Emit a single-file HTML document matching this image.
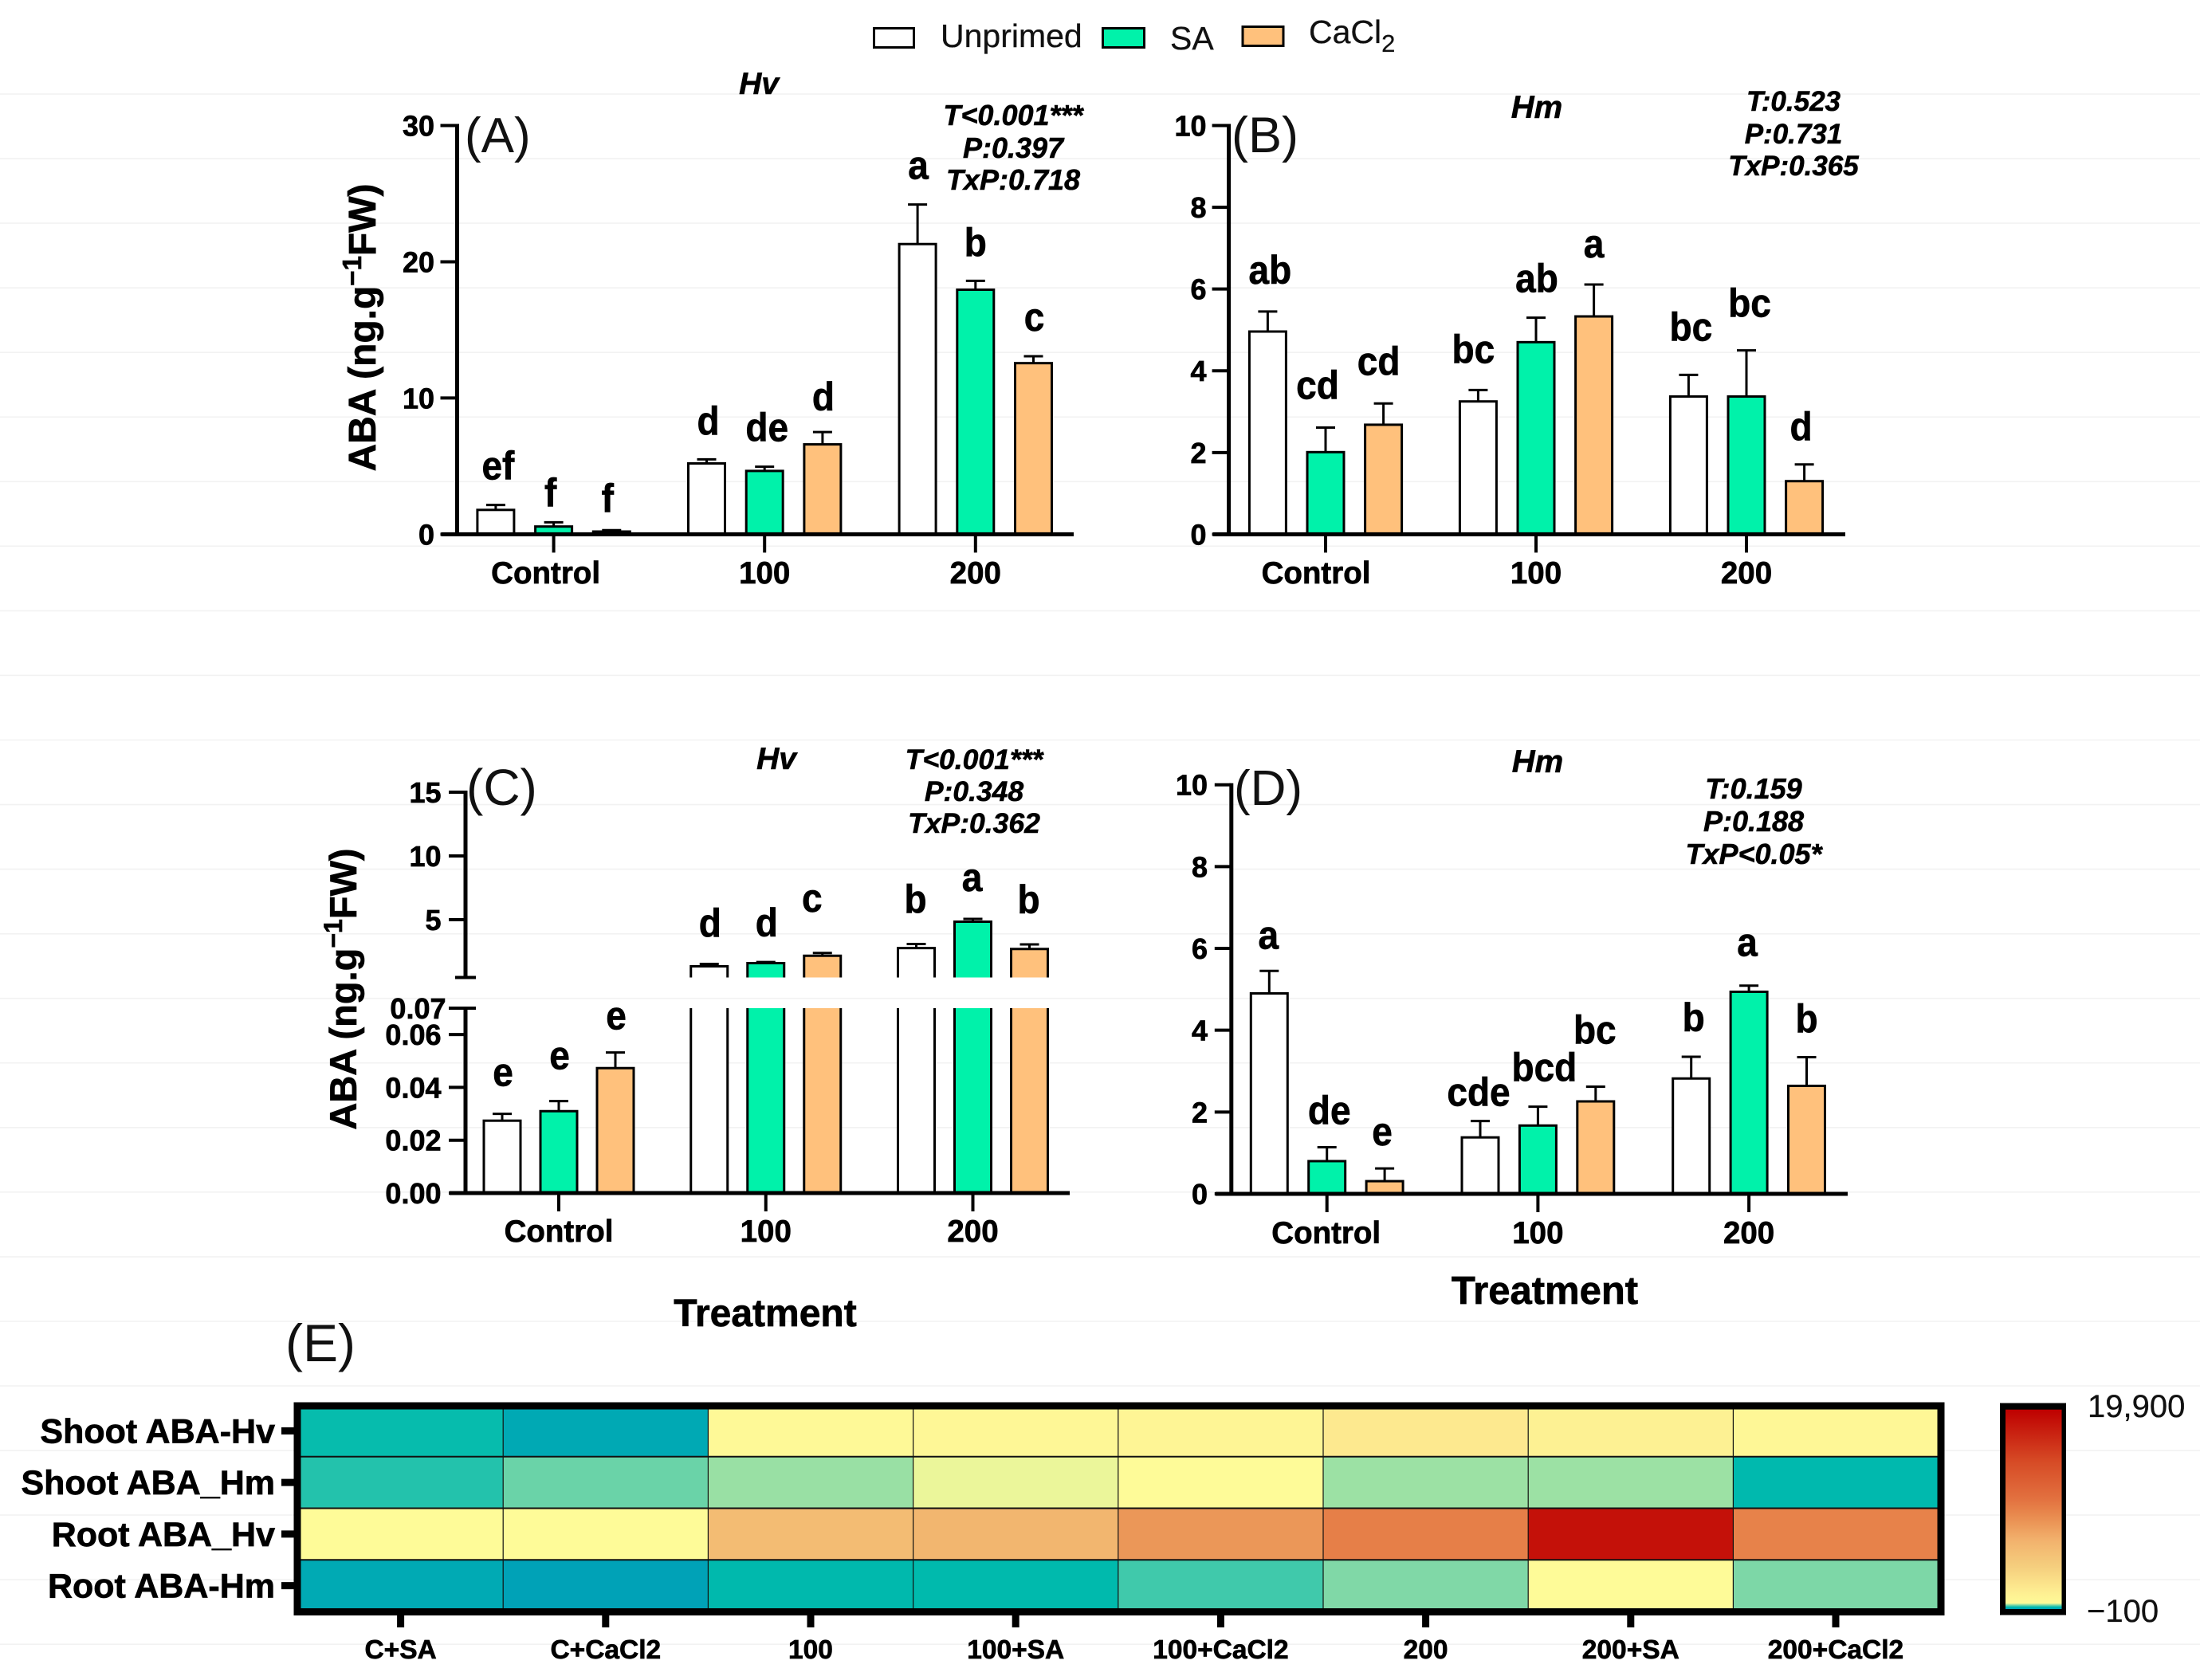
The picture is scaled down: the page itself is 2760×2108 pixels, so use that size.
<!DOCTYPE html>
<html lang="en">
<head>
<meta charset="utf-8">
<title>ABA content bar charts and heatmap</title>
<style>
html,body{margin:0;padding:0;background:#fff;}
svg{display:block;font-family:"Liberation Sans",sans-serif;}
.b{font-weight:700;stroke:#000;stroke-width:.7px;}
.bi{font-weight:700;font-style:italic;stroke:#000;stroke-width:.6px;}
.r{stroke:#111;stroke-width:.3px;}
</style>
</head>
<body>
<svg id="figure" xmlns="http://www.w3.org/2000/svg" width="2760" height="2108" viewBox="0 0 2760 2108">
  <rect width="2760" height="2108" fill="#fff"/>
  <g id="grid"></g>

  <g>
    <g>
      <rect x="1096.5" y="35.5" width="50" height="24" fill="#fff" stroke="#000" stroke-width="3"/>
      <text class="r" x="1180" y="59" font-size="41" fill="#111">Unprimed</text>
    </g>
    <g>
      <rect x="1383.5" y="35.5" width="52" height="24" fill="#00F2AA" stroke="#000" stroke-width="3"/>
      <text class="r" x="1468" y="62" font-size="41" fill="#111">SA</text>
    </g>
    <g>
      <rect x="1559" y="33.5" width="51" height="24" fill="#FFC17C" stroke="#000" stroke-width="3"/>
      <text class="r" x="1642" y="54" font-size="41" fill="#111">CaCl<tspan dy="11" font-size="31">2</tspan></text>
    </g>
  </g>

  <g id="panel-a">
    <text x="583" y="191" font-size="62" fill="#111">(A)</text>
    <text class="bi" x="952" y="118" font-size="39" text-anchor="middle" fill="#000">Hv</text>
    <text class="bi" x="1271" y="157" font-size="36" text-anchor="middle" fill="#000">T&lt;0.001***</text>
    <text class="bi" x="1271" y="198" font-size="36" text-anchor="middle" fill="#000">P:0.397</text>
    <text class="bi" x="1271" y="238" font-size="36" text-anchor="middle" fill="#000">TxP:0.718</text>
    <text class="b" x="471" y="411" transform="rotate(-90 471 411)" font-size="48" text-anchor="middle" fill="#000">ABA (ng.g<tspan dy="-18" font-size="33">−1</tspan><tspan dy="18">FW)</tspan></text>
  </g>

  <g id="panel-b">
    <text x="1545" y="191" font-size="63" fill="#111">(B)</text>
    <text class="bi" x="1928" y="148" font-size="40" text-anchor="middle" fill="#000">Hm</text>
    <text class="bi" x="2250" y="139" font-size="35" text-anchor="middle" fill="#000">T:0.523</text>
    <text class="bi" x="2250" y="180" font-size="35" text-anchor="middle" fill="#000">P:0.731</text>
    <text class="bi" x="2250" y="220" font-size="35" text-anchor="middle" fill="#000">TxP:0.365</text>
  </g>

  <g id="panel-c">
    <text x="585" y="1010" font-size="64" fill="#111">(C)</text>
    <text class="bi" x="974" y="965" font-size="39" text-anchor="middle" fill="#000">Hv</text>
    <text class="bi" x="1222" y="965" font-size="35.5" text-anchor="middle" fill="#000">T&lt;0.001***</text>
    <text class="bi" x="1222" y="1005" font-size="35.5" text-anchor="middle" fill="#000">P:0.348</text>
    <text class="bi" x="1222" y="1045" font-size="35.5" text-anchor="middle" fill="#000">TxP:0.362</text>
    <text class="b" x="447" y="1241" transform="rotate(-90 447 1241)" font-size="47" text-anchor="middle" fill="#000">ABA (ng.g<tspan dy="-18" font-size="32">−1</tspan><tspan dy="18">FW)</tspan></text>
    <text class="b" x="960" y="1664" font-size="48" text-anchor="middle" fill="#000">Treatment</text>
  </g>

  <g id="panel-d">
    <text x="1548" y="1010" font-size="62" fill="#111">(D)</text>
    <text class="bi" x="1929" y="969" font-size="40" text-anchor="middle" fill="#000">Hm</text>
    <text class="bi" x="2200" y="1002" font-size="36" text-anchor="middle" fill="#000">T:0.159</text>
    <text class="bi" x="2200" y="1043" font-size="36" text-anchor="middle" fill="#000">P:0.188</text>
    <text class="bi" x="2200" y="1084" font-size="36" text-anchor="middle" fill="#000">TxP&lt;0.05*</text>
    <text class="b" x="1938" y="1636" font-size="49" text-anchor="middle" fill="#000">Treatment</text>
  </g>

  <g id="panel-e">
    <text x="358" y="1708" font-size="66" fill="#111">(E)</text>
  </g>
</svg>

<script>
/* ---------- shared categories ---------- */
const categories = ['Control', '100', '200'];
const seriesNames = ['unprimed', 'sa', 'cacl2'];
const seriesFills = ['#ffffff', '#00F2AA', '#FFC17C'];

/* ---------- panel A values ---------- */
const aUnprimed = [1.79, 5.2, 21.3];
const aSA = [0.57, 4.65, 17.95];
const aCaCl2 = [0.2, 6.6, 12.56];
const aUnprimedErr = [0.36, 0.3, 2.9];
const aSAErr = [0.31, 0.31, 0.65];
const aCaCl2Err = [0.1, 0.9, 0.51];
const aLetters = [['ef', 'f', 'f'], ['d', 'de', 'd'], ['a', 'b', 'c']];
const aTicks = [0, 10, 20, 30];

/* ---------- panel B values ---------- */
const bUnprimed = [4.96, 3.25, 3.37];
const bSA = [2.01, 4.7, 3.37];
const bCaCl2 = [2.68, 5.33, 1.3];
const bUnprimedErr = [0.49, 0.28, 0.53];
const bSAErr = [0.6, 0.6, 1.13];
const bCaCl2Err = [0.52, 0.78, 0.41];
const bLetters = [['ab', 'cd', 'cd'], ['bc', 'ab', 'a'], ['bc', 'bc', 'd']];
const bTicks = [0, 2, 4, 6, 8, 10];

/* ---------- panel C values ---------- */
const cUnprimed = [0.0274, 1.34, 2.77];
const cSA = [0.031, 1.59, 4.84];
const cCaCl2 = [0.0473, 2.17, 2.7];
const cUnprimedErr = [0.0026, 0.19, 0.32];
const cSAErr = [0.0038, 0.09, 0.22];
const cCaCl2Err = [0.0059, 0.22, 0.36];
const cLetters = [['e', 'e', 'e'], ['d', 'd', 'c'], ['b', 'a', 'b']];
const cTicksUpper = [5, 10, 15];
const cTicksLower = [0, 0.02, 0.04, 0.06, 0.07];

/* ---------- panel D values ---------- */
const dUnprimed = [4.9, 1.38, 2.82];
const dSA = [0.8, 1.67, 4.94];
const dCaCl2 = [0.31, 2.26, 2.64];
const dUnprimedErr = [0.55, 0.4, 0.53];
const dSAErr = [0.34, 0.46, 0.15];
const dCaCl2Err = [0.31, 0.36, 0.7];
const dLetters = [['a', 'de', 'e'], ['cde', 'bcd', 'bc'], ['b', 'a', 'b']];
const dTicks = [0, 2, 4, 6, 8, 10];

/* ---------- panel E values ---------- */
const heatColumns = ['C+SA', 'C+CaCl2', '100', '100+SA', '100+CaCl2', '200', '200+SA', '200+CaCl2'];
const heatRows = ['Shoot ABA-Hv', 'Shoot ABA_Hm', 'Root ABA_Hv', 'Root ABA-Hm'];
const heatShootHv = [110, -30, 700, 800, 1000, 2000, 1300, 800];
const heatShootHm = [155, 265, 340, 470, 520, 345, 345, 90];
const heatRootHv = [500, 510, 5800, 6400, 8500, 10000, 18700, 9800];
const heatRootHm = [-20, -85, 95, 100, 200, 300, 500, 295];
const scaleStopValues = [-100, 100, 200, 300, 400, 500, 2000, 4100, 6760, 9420, 11000, 14740, 19900];
const scaleStopColors = ['#00A0B8', '#00BAAD', '#40C9AB', '#80D8A7', '#BEEBA0', '#FEFB98', '#FDE98F', '#F5CF7E', '#F2B26D', '#E8884D', '#E2703F', '#D64A25', '#BE0000'];
const scaleLabels = ['19,900', '−100'];

/* ---------- helpers ---------- */
const SVGNS = 'http://www.w3.org/2000/svg';
function mk(parent, tag, props, content) {
  const el = document.createElementNS(SVGNS, tag);
  for (const k in props) el.setAttribute(k, props[k]);
  if (content !== undefined) el.textContent = content;
  parent.appendChild(el);
  return el;
}
function linear(d0, d1, r0, r1) {
  return v => r0 + (v - d0) * (r1 - r0) / (d1 - d0);
}

/* ---------- background rules ---------- */
const gridGroup = document.getElementById('grid');
for (let k = 0; k < 25; k++) {
  const y = 118 + k * 81.05;
  const rule = mk(gridGroup, 'line', { x1: 0, x2: 2760, y1: y, y2: y, stroke: '#f2f2f2', 'stroke-width': 1.6 });
  
  
}

/* ---------- bar panels ---------- */
function drawErrorBar(g, id, x, yTop, yBase) {
  const stem = mk(g, 'line', { x1: x, x2: x, y1: yBase, y2: yTop, stroke: '#000', 'stroke-width': 3 });
  
  
  const cap = mk(g, 'line', { x1: x - 12, x2: x + 12, y1: yTop, y2: yTop, stroke: '#000', 'stroke-width': 3 });
  
  
}

function drawBars(cfg) {
  const g = document.getElementById(cfg.id);
  const name = cfg.name;
  cfg.series.forEach((vals, s) => {
    vals.forEach((v, c) => {
      const cx = cfg.xCat(c) + (s - 1) * cfg.barStep;
      const id = name + '-bar-' + seriesNames[s] + '-' + categories[c].toLowerCase();
      const top = cfg.errors[s][c] + v;
      const xl = cx - 23, xr = cx + 23;
      drawErrorBar(g, id, cx, cfg.y(top), cfg.y(v));
      if (cfg.broken && v > cfg.breakLow) {
        const upper = mk(g, 'path', { d: 'M' + xl + ' ' + cfg.breakBottom + 'V' + cfg.y(v) + 'H' + xr + 'V' + cfg.breakBottom, fill: seriesFills[s], stroke: '#000', 'stroke-width': 3 });
        
        
        const lower = mk(g, 'path', { d: 'M' + xl + ' ' + cfg.breakTop + 'V' + cfg.y(0) + 'H' + xr + 'V' + cfg.breakTop, fill: seriesFills[s], stroke: '#000', 'stroke-width': 3 });
        
        
      } else {
        const bar = mk(g, 'rect', { x: xl, y: cfg.y(v), width: xr - xl, height: cfg.y(0) - cfg.y(v), fill: seriesFills[s], stroke: '#000', 'stroke-width': 3 });
        
        
      }
      const lx = cx + cfg.letterDx[c][s];
      const ly = cfg.y(top) - cfg.letterLift[c][s];
      const letter = mk(g, 'text', { transform: 'translate(' + lx + ' ' + ly + ') scale(.92 1)', class: 'b', 'font-size': 50, 'text-anchor': 'middle', fill: '#000' }, cfg.letters[c][s]);
      
      
    });
  });

  /* x axis */
  const base = mk(g, 'line', { x1: cfg.axisX - 20, x2: cfg.axisEnd, y1: cfg.y(0), y2: cfg.y(0), stroke: '#000', 'stroke-width': 5 });
  
  
  categories.forEach((label, c) => {
    const t = mk(g, 'line', { x1: cfg.xCat(c), x2: cfg.xCat(c), y1: cfg.y(0), y2: cfg.y(0) + 23, stroke: '#000', 'stroke-width': 4 });
    
    
    const tl = mk(g, 'text', { x: cfg.xCat(c) + cfg.xLabelDx[c], y: cfg.xLabelY, class: 'b', 'font-size': 38.5, 'text-anchor': 'middle', fill: '#000' }, label);
    
    
  });

  /* y axis */
  cfg.axisSegments.forEach(seg => {
    const a = mk(g, 'line', { x1: cfg.axisX, x2: cfg.axisX, y1: seg[0], y2: seg[1], stroke: '#000', 'stroke-width': 5 });
    
    
  });
  cfg.ticks.forEach(v => {
    const y = cfg.y(v);
    const t = mk(g, 'line', { x1: cfg.axisX - 21, x2: cfg.axisX, y1: y, y2: y, stroke: '#000', 'stroke-width': 4 });
    
    
    const nudge = (cfg.broken && v === 0.07) ? 6 : 0;
    const tl = mk(g, 'text', { x: cfg.tickLabelX + nudge, y: y + 13, class: 'b', 'font-size': 36, 'text-anchor': 'end', fill: '#000' }, cfg.tickFormat(v));
    
    
  });
}

const asInt = v => String(v);

const yA = linear(0, 30, 670.4, 157.5);
drawBars({
  id: 'panel-a', name: 'panel-a', y: yA, xCat: linear(0, 1, 694.6, 959.2), barStep: 72.7,
  series: [aUnprimed, aSA, aCaCl2], errors: [aUnprimedErr, aSAErr, aCaCl2Err], letters: aLetters,
  letterLift: [[32, 20, 23], [31, 32, 27], [32, 31, 32]],
  letterDx: [[3, -4, -5], [2, 3, 1], [1, 0, 1]],
  ticks: aTicks, tickFormat: asInt, axisX: 573.5, axisEnd: 1347, tickLabelX: 545,
  axisSegments: [[yA(30) - 2, yA(0)]], xLabelY: 732, xLabelDx: [-10, 0, 0]
});

const yB = linear(0, 10, 670.4, 157.5);
drawBars({
  id: 'panel-b', name: 'panel-b', y: yB, xCat: linear(0, 1, 1663, 1927), barStep: 72.6,
  series: [bUnprimed, bSA, bCaCl2], errors: [bUnprimedErr, bSAErr, bCaCl2Err], letters: bLetters,
  letterLift: [[35, 36, 36], [34, 32, 34], [43, 42, 30]],
  letterDx: [[3, -10, -6], [-6, 1, 0], [3, 4, -4]],
  ticks: bTicks, tickFormat: asInt, axisX: 1541.6, axisEnd: 2315, tickLabelX: 1513.5,
  axisSegments: [[yB(10) - 2, yB(0)]], xLabelY: 732, xLabelDx: [-12, 0, 0]
});

/* Panel C uses a broken axis: two linear pieces joined through one axis function */
const C_BREAK_LOW = 0.07;
const C_BREAK_HIGH = 0.47;
const yCLower = linear(0, 0.07, 1497, 1265);
const yCUpper = linear(5, 15, 1154, 994);
const yC = v => (v <= C_BREAK_LOW ? yCLower(v) : yCUpper(Math.max(v, C_BREAK_HIGH)));
drawBars({
  id: 'panel-c', name: 'panel-c', y: yC, xCat: linear(0, 1, 701, 960.75), barStep: 71,
  series: [cUnprimed, cSA, cCaCl2], errors: [cUnprimedErr, cSAErr, cCaCl2Err], letters: cLetters,
  letterLift: [[35, 40, 29], [34, 32, 52], [39, 35, 39]],
  letterDx: [[1, 1, 1], [1, 1, -13], [-1, -1, -1]],
  ticks: cTicksUpper.concat(cTicksLower),
  tickFormat: v => (v >= 1 ? String(v) : v.toFixed(2)),
  axisX: 584, axisEnd: 1342, tickLabelX: 553.5,
  axisSegments: [[yCUpper(15) - 2, yCUpper(C_BREAK_HIGH)], [yCLower(C_BREAK_LOW) - 2, yCLower(0)]],
  xLabelY: 1558, xLabelDx: [0, 0, 0],
  broken: true, breakLow: C_BREAK_LOW,
  breakBottom: yCUpper(C_BREAK_HIGH), breakTop: yCLower(C_BREAK_LOW)
});
(function () {
  const g = document.getElementById('panel-c');
  [yCUpper(C_BREAK_HIGH), yCLower(C_BREAK_LOW)].forEach(y => {
    const cap = mk(g, 'line', { x1: 571, x2: 597, y1: y, y2: y, stroke: '#000', 'stroke-width': 4 });
    
    
  });
})();

const yD = linear(0, 10, 1498, 984.7);
drawBars({
  id: 'panel-d', name: 'panel-d', y: yD, xCat: linear(0, 1, 1664.7, 1929.4), barStep: 72.4,
  series: [dUnprimed, dSA, dCaCl2], errors: [dUnprimedErr, dSAErr, dCaCl2Err], letters: dLetters,
  letterLift: [[28, 29, 29], [19, 32, 54], [32, 37, 31]],
  letterDx: [[-1, 3, -3], [-2, 8, -1], [3, -2, 0]],
  ticks: dTicks, tickFormat: asInt, axisX: 1544.8, axisEnd: 2318, tickLabelX: 1515,
  axisSegments: [[yD(10) - 2, yD(0)]], xLabelY: 1560, xLabelDx: [-1, 0, 0]
});

/* ---------- heatmap ---------- */
function hexToRgb(h) {
  return [parseInt(h.slice(1, 3), 16), parseInt(h.slice(3, 5), 16), parseInt(h.slice(5, 7), 16)];
}
function heatColor(v) {
  const n = scaleStopValues.length;
  if (v <= scaleStopValues[0]) return scaleStopColors[0];
  if (v >= scaleStopValues[n - 1]) return scaleStopColors[n - 1];
  let i = 0;
  while (v > scaleStopValues[i + 1]) i++;
  const t = (v - scaleStopValues[i]) / (scaleStopValues[i + 1] - scaleStopValues[i]);
  const a = hexToRgb(scaleStopColors[i]), b = hexToRgb(scaleStopColors[i + 1]);
  return 'rgb(' + a.map((c, k) => Math.round(c + (b[k] - c) * t)).join(',') + ')';
}

(function () {
  const g = document.getElementById('panel-e');
  const heatValues = [heatShootHv, heatShootHm, heatRootHv, heatRootHm];
  const xCol = linear(0, heatColumns.length, 374, 2431.6);
  const yRow = linear(0, heatRows.length, 1763, 2022);

  heatValues.forEach((rowVals, r) => {
    rowVals.forEach((v, c) => {
      const cell = mk(g, 'rect', { x: xCol(c), y: yRow(r), width: xCol(c + 1) - xCol(c), height: yRow(r + 1) - yRow(r), fill: heatColor(v) });
      
      
    });
  });
  for (let c = 1; c < heatColumns.length; c++) {
    const l = mk(g, 'line', { x1: xCol(c), x2: xCol(c), y1: yRow(0), y2: yRow(heatRows.length), stroke: '#111', 'stroke-width': 1.2 });
    
    
  }
  for (let r = 1; r < heatRows.length; r++) {
    const l = mk(g, 'line', { x1: xCol(0), x2: xCol(heatColumns.length), y1: yRow(r), y2: yRow(r), stroke: '#111', 'stroke-width': 2 });
    
    
  }
  const frame = mk(g, 'rect', { x: 373, y: 1764, width: 2062, height: 258.5, fill: 'none', stroke: '#000', 'stroke-width': 9 });
  
  

  heatRows.forEach((label, r) => {
    const y = (yRow(r) + yRow(r + 1)) / 2;
    const t = mk(g, 'line', { x1: 353, x2: 369, y1: y, y2: y, stroke: '#000', 'stroke-width': 9 });
    
    
    const tl = mk(g, 'text', { x: 345, y: y + 15, class: 'b', 'font-size': 43, 'text-anchor': 'end', fill: '#000' }, label);
    
    
  });
  heatColumns.forEach((label, c) => {
    const x = (xCol(c) + xCol(c + 1)) / 2;
    const t = mk(g, 'line', { x1: x, x2: x, y1: 2027, y2: 2042, stroke: '#000', 'stroke-width': 9 });
    
    
    const tl = mk(g, 'text', { x: x, y: 2081, class: 'b', 'font-size': 33.5, 'text-anchor': 'middle', fill: '#000' }, label);
    
    
  });

  /* colour scale */
  const defs = mk(g, 'defs', {});
  const grad = mk(defs, 'linearGradient', { id: 'heat-scale', x1: 0, x2: 0, y1: 1, y2: 0 });
  const vMin = scaleStopValues[0], vMax = scaleStopValues[scaleStopValues.length - 1];
  scaleStopValues.forEach((v, i) => {
    mk(grad, 'stop', { offset: (v - vMin) / (vMax - vMin), 'stop-color': scaleStopColors[i] });
  });
  const barFrame = mk(g, 'rect', { x: 2509, y: 1760.5, width: 83, height: 266, fill: '#000' });
  
  
  const barFill = mk(g, 'rect', { x: 2516, y: 1768.7, width: 70.5, height: 250.3, fill: 'url(#heat-scale)' });
  
  
  const maxLabel = mk(g, 'text', { x: 2619, y: 1778, class: 'r', 'font-size': 40, fill: '#111' }, scaleLabels[0]);
  
  
  const minLabel = mk(g, 'text', { x: 2618, y: 2035, class: 'r', 'font-size': 40, fill: '#111' }, scaleLabels[1]);
  
  
})();
</script>
</body>
</html>
